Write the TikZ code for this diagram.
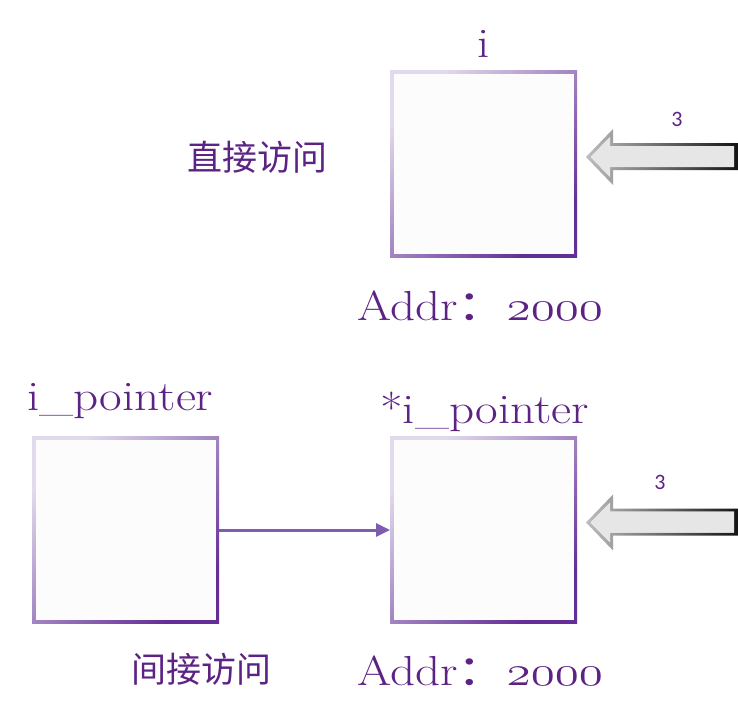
\documentclass[tikz,border=0pt]{standalone}
\usepackage{fontspec}
\newfontfamily\cjk{Noto Sans CJK SC}
\newfontfamily\numfont{Carlito}
\font\osfnum=cmmi12 at 42pt
\usetikzlibrary{arrows.meta}
\definecolor{txt}{RGB}{92,34,132}
\definecolor{bordlight}{RGB}{224,218,236}
\definecolor{borddark}{RGB}{100,46,150}
\definecolor{linkc}{RGB}{128,92,176}
\definecolor{boxfill}{RGB}{252,252,252}
\definecolor{arrfill}{RGB}{230,230,230}
\definecolor{arrlight}{RGB}{190,190,190}
\definecolor{arrdark}{RGB}{20,20,20}
\newcommand\blkarrow[1]{%
  \begin{scope}[shift={#1}]
    \shade[left color=arrlight,right color=arrdark,even odd rule]
      (-2,0) -- (25,-28) -- (25,-14) -- (150,-14) -- (150,13) -- (25,13) -- (25,28) -- cycle
      (2.5,0) -- (22,-20) -- (22,-11) -- (146,-11) -- (146,10) -- (22,10) -- (22,20) -- cycle;
    \fill[arrfill]
      (2.5,0) -- (22,-20) -- (22,-11) -- (146,-11) -- (146,10) -- (22,10) -- (22,20) -- cycle;
  \end{scope}}
\newcommand\wide[1]{\scalebox{1.17}[1]{#1}}
\begin{document}
\begin{tikzpicture}[x=1pt,y=-1pt,
  membox/.style={minimum width=187pt,minimum height=187pt,inner sep=0pt,outer sep=0pt,
    top color=bordlight,bottom color=borddark,shading angle=45},
  lbl/.style={text=txt,inner sep=0pt,font=\fontsize{42}{50}\selectfont},
  cn/.style={text=txt,inner sep=0pt,font=\cjk\fontsize{35}{40}\selectfont},
  num/.style={text=txt,inner sep=0pt,font=\numfont\fontsize{22}{26}\selectfont},
  ptr/.style={draw=linkc,line width=3pt,-{Triangle[length=14pt,width=13pt]}}]
\useasboundingbox (0,0) rectangle (738,725);
% boxes
\node[membox] (i) at (483.5,163.5) {};
\node[membox] (p) at (125.5,530) {};
\node[membox] (q) at (483.5,530) {};
\foreach \b in {i,p,q}
  \fill[boxfill] ([xshift=3.5pt,yshift=-3.5pt]\b.north west) rectangle ([xshift=-3.5pt,yshift=3.5pt]\b.south east);
% labels
\node[lbl,anchor=base] (ti) at (484,58) {\wide{i}};
\node[lbl,anchor=base west] (ta1) at (357,320) {\wide{Addr{\cjk ：}{\osfnum 2000}}};
\node[lbl,anchor=base west] (tp) at (27,410) {\wide{i\_pointer}};
\node[lbl,anchor=base west] (tq) at (380,423) {\wide{*i\_pointer}};
\node[lbl,anchor=base west] (ta2) at (357,685) {\wide{Addr{\cjk ：}{\osfnum 2000}}};
\node[cn] (d1) at (257,157) {直接访问};
\node[cn] (d2) at (201,669) {间接访问};
\node[num] (n1) at (677,119) {3};
\node[num] (n2) at (660,482) {3};
% block arrows
\blkarrow{(588,157)}
\blkarrow{(588,522.5)}
% pointer
\draw[ptr] (p.east) -- (q.west);
\end{tikzpicture}
\end{document}
